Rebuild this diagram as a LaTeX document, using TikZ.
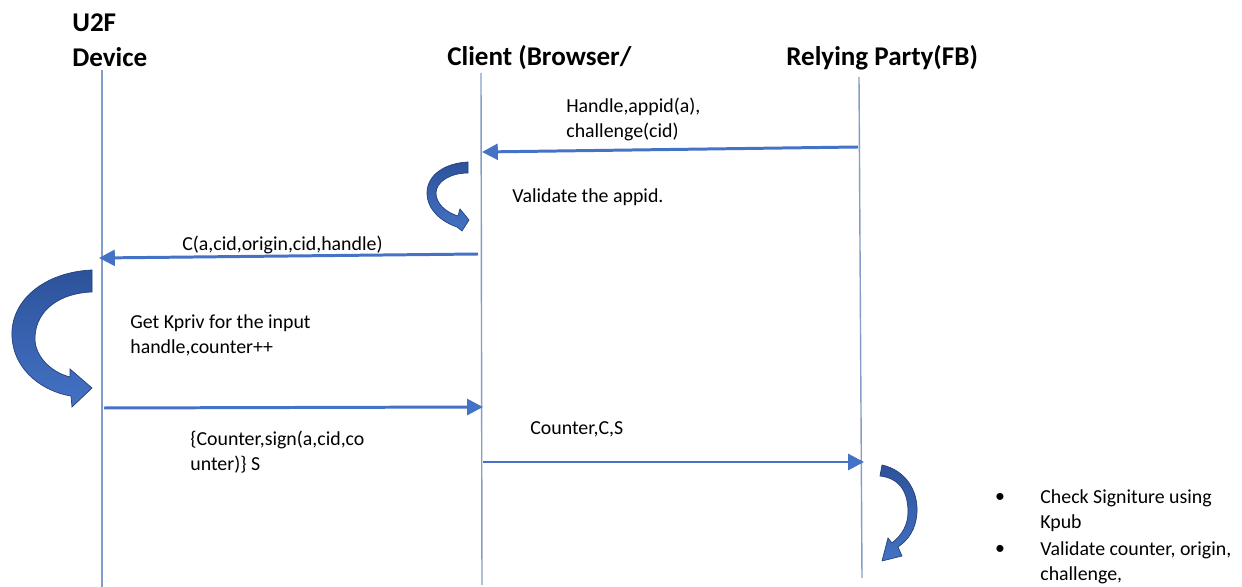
\documentclass[tikz,border=0pt]{standalone}
\usepackage{fontspec}
\setmainfont{Carlito}
\usetikzlibrary{arrows.meta,positioning}
\definecolor{msgblue}{RGB}{68,114,196}
\definecolor{lifeblue}{RGB}{130,158,198}
\definecolor{bendblue}{RGB}{45,82,155}
\definecolor{benddark}{RGB}{36,64,122}

\begin{document}
\begin{tikzpicture}[
    x=0.02cm, y=-0.02cm,
    actor/.style={font=\fontsize{15.4}{20.4}\selectfont\bfseries, inner sep=0pt, align=left},
    note/.style={font=\fontsize{11.3}{14.6}\selectfont, inner sep=0pt, align=left},
    life/.style={draw=lifeblue, line width=0.8pt},
    msg/.style={draw=msgblue, line width=1.7pt, -{Triangle[length=9pt,width=9pt]}},
    bendarrow/.style={top color=bendblue, bottom color=msgblue, draw=benddark, line width=0.4pt},
  ]
  \useasboundingbox (0,0) rectangle (1242,587);

  %% ===== Actors =====
  \node[actor, anchor=base west] (dev) at (72,67) {U2F\\Device};
  \node[actor, anchor=base west] (cli) at (447,66) {Client (Browser/};
  \node[actor, anchor=base west] (rp)  at (786,66) {Relying Party(FB)};

  %% ===== Lifelines =====
  \coordinate (devtop) at (102,70);  \coordinate (devbot) at (102,587);
  \coordinate (clitop) at (481,73);  \coordinate (clibot) at (482,585);
  \coordinate (rptop)  at (859,77);  \coordinate (rpbot)  at (862,578);
  \draw[life] (devtop) -- (devbot);
  \draw[life] (clitop) -- (clibot);
  \draw[life] (rptop) -- (rpbot);

  %% ===== Messages =====
  \coordinate (m1a) at (858,147); \coordinate (m1b) at (482,152);
  \coordinate (m2a) at (478,254); \coordinate (m2b) at (99,258);
  \coordinate (m3a) at (104,408); \coordinate (m3b) at (483,407);
  \coordinate (m4a) at (483,462); \coordinate (m4b) at (864,462);
  \draw[msg] (m1a) -- (m1b);
  \draw[msg] (m2a) -- (m2b);
  \draw[msg] (m3a) -- (m3b);
  \draw[msg] (m4a) -- (m4b);

  \node[note, anchor=base west] (m1lbl) at (566,138) {Handle,appid(a),\\challenge(cid)};
  \node[note, anchor=base west] (m2lbl) at (182,251) {C(a,cid,origin,cid,handle)};
  \node[note, anchor=base west] (m3lbl) at (190,471) {\{Counter,sign(a,cid,co\\unter)\} S};
  \node[note, anchor=base west] (m4lbl) at (530,435) {Counter,C,S};

  %% ===== Local steps =====
  \node[note, anchor=base west] (valid) at (512,203) {Validate the appid.};
  \node[note, anchor=base west] (kpriv) at (130,354) {Get Kpriv for the input\\handle,counter++};

  \node[note, anchor=base] (b1) at (1000,503) {\textbullet};
  \node[note, anchor=base] (b2) at (1000,555) {\textbullet};
  \node[note, anchor=base west] (chk) at (1040,529) {Check Signiture using\\Kpub};
  \node[note, anchor=base west] (val) at (1040,581) {Validate counter, origin,\\challenge,};

  %% --- curved arrows ---
  \shadedraw[bendarrow] (468,162) .. controls (445,163) and (427,175) .. (427,193)
    .. controls (427,210) and (442,222) .. (457,227)
    -- (462,231) -- (469,220) -- (460,209) -- (458,216)
    .. controls (445,212) and (436,203) .. (436,193)
    .. controls (436,182) and (450,173) .. (468,173) -- cycle;

  \shadedraw[bendarrow] (92,270) .. controls (45,272) and (10,300) .. (12,337)
    .. controls (14,372) and (45,392) .. (71,396)
    -- (72,407) -- (92,388) -- (70,369) -- (70,377)
    .. controls (50,372) and (34,355) .. (35,337)
    .. controls (36,310) and (60,293) .. (92,292) -- cycle;

  \shadedraw[bendarrow] (882,465) .. controls (905,470) and (918,490) .. (917,512)
    .. controls (916,530) and (908,540) .. (898,547)
    -- (902,556) -- (882,561) -- (888,538) -- (892,543)
    .. controls (902,535) and (908,525) .. (908,512)
    .. controls (908,490) and (898,478) .. (880,476) -- cycle;
\end{tikzpicture}
\end{document}
